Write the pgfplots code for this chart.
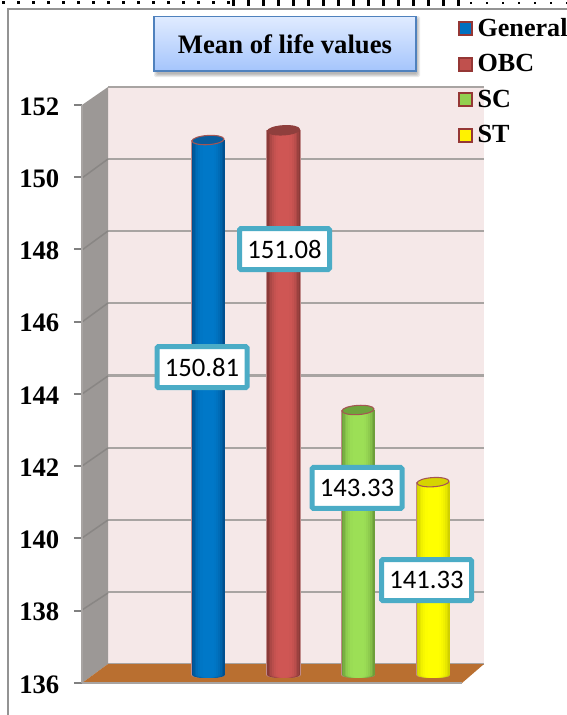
\documentclass[border=0pt]{standalone}
\usepackage{pgfplots}
\usepackage{fontspec}
\pgfplotsset{compat=1.18}
\setmainfont{Liberation Serif}
\newfontfamily\labelfont{Carlito}
\definecolor{wallpink}{HTML}{F5E8E8}
\definecolor{sidegray}{HTML}{9C9896}
\definecolor{gridgray}{HTML}{A8A4A2}
\definecolor{floorbrown}{HTML}{B96F30}
\definecolor{callout}{HTML}{4BACC6}
\definecolor{rimred}{HTML}{953735}
\definecolor{halo}{HTML}{C08A8A}
\definecolor{blueA}{HTML}{00508F}\definecolor{blueB}{HTML}{0078C8}\definecolor{blueT}{HTML}{0A5C9C}
\definecolor{redA}{HTML}{8A3A38}\definecolor{redB}{HTML}{CF5654}\definecolor{redT}{HTML}{8F3F3D}
\definecolor{greenA}{HTML}{6E9F3B}\definecolor{greenB}{HTML}{9CDF56}\definecolor{greenT}{HTML}{6EA33C}
\definecolor{yellowA}{HTML}{D0D000}\definecolor{yellowB}{HTML}{FFFF00}\definecolor{yellowT}{HTML}{D6D400}
\definecolor{keyblue}{HTML}{0070C0}\definecolor{keyred}{HTML}{C0504D}\definecolor{keygreen}{HTML}{92D050}
\definecolor{titleedge}{HTML}{4F81BD}\definecolor{titletop}{HTML}{E0EBFF}\definecolor{titlebot}{HTML}{A5C5FC}
% one drawing unit is one pixel: 0.75pt
\newlength{\pxu}\setlength{\pxu}{0.75pt}
% slightly tilted top of a cylinder, and the lower half of its rounded foot
\pgfdeclareplotmark{barcap}{%
  \pgfpathellipse{\pgfpointorigin}{\pgfqpoint{16\pxu}{1\pxu}}{\pgfqpoint{-0.3\pxu}{4.6\pxu}}%
  \pgfusepathqfillstroke}
\pgfdeclareplotmark{barfoot}{%
  \pgfpathmoveto{\pgfqpoint{-\pgfplotmarksize}{0pt}}%
  \pgfpathcurveto{\pgfqpoint{-\pgfplotmarksize}{-3pt}}{\pgfqpoint{\pgfplotmarksize}{-3pt}}{\pgfqpoint{\pgfplotmarksize}{0pt}}%
  \pgfpathclose\pgfusepathqfill}
\pgfplotsset{
  plane/.style={scale only axis, ymin=136, ymax=152, clip=false,
    height=577.4\pxu, ytick={136,138,...,152}},
  cap/.style={only marks, mark=barcap, line width=0.8pt, forget plot},
  val/.style 2 args={nodes near coords,
    /pgf/number format/fixed, /pgf/number format/fixed zerofill,
    /pgf/number format/precision=2, /pgf/number format/assume math mode=true,
    every node near coord/.append style={anchor=center, xshift=#1\pxu, yshift=#2\pxu,
      fill=white, draw=callout, line width=5\pxu, minimum width=90\pxu, minimum height=41\pxu,
      rounded corners=1pt, inner sep=0pt, text=black, font=\labelfont\fontsize{20pt}{22pt}\selectfont}},
  key/.style={legend image code/.code={%
      \draw[fill=#1, draw=rimred, line width=1.4pt] (0pt,-4.9pt) rectangle (9.8pt,4.9pt);
      \path (13pt,0pt);}},
}
% one vertical strip of a cylinder with its foot
\newcommand{\strip}[5]{%
  \addplot[ybar, bar width=#4\pxu, bar shift=0pt, draw=none, fill=#5, forget plot] coordinates {(#1,#2)};
  \addplot[only marks, mark=barfoot, mark size=#4*0.5*0.75pt, draw=none, fill=#5, forget plot] coordinates {(#1,136)};
}
% a cylinder: strips narrowing towards its bright middle
\newcommand{\cylinder}[4]{%
  \strip{#1}{#2}{}{34.5}{halo}
  \strip{#1}{#2}{}{33}{#3}
  \strip{#1}{#2}{}{30}{#4!25!#3}
  \strip{#1}{#2}{}{27}{#4!50!#3}
  \strip{#1}{#2}{}{24}{#4!70!#3}
  \strip{#1}{#2}{}{20}{#4!85!#3}
  \strip{#1}{#2}{}{16}{#4!95!#3}
  \strip{#1}{#2}{}{11}{#4}
}
\begin{document}
\begin{tikzpicture}[x=\pxu, y=-\pxu]
\clip (0,0) rectangle (567,715);
\fill[white] (0,0) rectangle (567,715);
\coordinate (wallcorner) at (108,664);
\coordinate (frontcorner) at (82,683);
\coordinate (barcorner) at (82,674.5);
% page edge marks and frame
\draw[black, line width=3.5\pxu, dash pattern=on 2.5\pxu off 12.5\pxu] (2,2.5) -- (230,2.5);
\draw[black, line width=7\pxu, dash pattern=on 3\pxu off 12\pxu] (232,2) -- (465,2);
\draw[black, line width=2\pxu, dash pattern=on 2\pxu off 14\pxu] (470,2.5) -- (567,2.5);
\draw[gray!85, line width=2\pxu] (7.5,716) -- (7.5,9) -- (568,9);
% back wall with its gridlines
\begin{axis}[plane, at={(wallcorner)}, anchor=south west, width=376\pxu, height=577\pxu,
  xmin=0, xmax=1, xtick=\empty, yticklabels={}, ymajorgrids, axis line style={draw=none},
  major tick length=0pt, grid style={gridgray, line width=2.2\pxu},
  axis background/.style={fill=wallpink}]
\addplot[draw=none] coordinates {(0,136) (1,152)};
\end{axis}
% side wall and floor
\fill[sidegray] (82,105) -- (108,87) -- (108,664) -- (82,683) -- cycle;
\foreach \a/\b in {178/159,250/231,322/303,394/376,466/448,538/520,610/593}
  \draw[sidegray!88!black, line width=1.5\pxu] (82,\a) -- (108,\b);
\fill[floorbrown] (82,683) -- (108,664) -- (484,664) -- (462,683) -- cycle;
% front edge with the value scale
\begin{axis}[plane, at={(frontcorner)}, anchor=south west, width=380\pxu, height=578.2\pxu,
  xmin=82, xmax=462, xtick=\empty, axis lines*=left,
  axis line style={gridgray, line width=1.5\pxu, -},
  tick style={black!50, line width=2\pxu}, major tick length=8\pxu,
  tick align=outside,
  yticklabel style={/pgf/number format/assume math mode=true, font=\bfseries\fontsize{20pt}{22pt}\selectfont, xshift=-10\pxu, yshift=-1.5\pxu}]
\addplot[draw=none] coordinates {(82,136) (462,152)};
\end{axis}
% cylinders, stood on a plane between the wall and the front edge
\begin{axis}[plane, at={(barcorner)}, anchor=south west, width=380\pxu,
  xmin=82, xmax=462, hide axis,
  legend style={at={(0.9879,1.1396)}, anchor=north west, draw=none, fill=none,
    font=\bfseries\fontsize{19.6pt}{22pt}\selectfont, inner sep=0pt, row sep=10.2pt,
    nodes={inner sep=1pt}},
  legend cell align=left]
\cylinder{208}{150.81}{blueA}{blueB}
\cylinder{283.5}{151.08}{redA}{redB}
\cylinder{358}{143.33}{greenA}{greenB}
\cylinder{433}{141.33}{yellowA}{yellowB}
% tops
\addplot[cap, draw=rimred!85!white, fill=blueT] coordinates {(208,150.81)};
\addplot[cap, draw=redT, fill=redT] coordinates {(283.5,151.08)};
\addplot[cap, draw=rimred!85!white, fill=greenT] coordinates {(358,143.33)};
\addplot[cap, draw=rimred!85!white, fill=yellowT] coordinates {(433,141.33)};
% callouts
\addplot[only marks, mark=none, forget plot, val={-6}{-227}] coordinates {(208,150.81)};
\addplot[only marks, mark=none, forget plot, val={1}{-118.7}] coordinates {(283.5,151.08)};
\addplot[only marks, mark=none, forget plot, val={-1}{-78}] coordinates {(358,143.33)};
\addplot[only marks, mark=none, forget plot, val={-6.5}{-97.9}] coordinates {(433,141.33)};
% legend keys
\addlegendimage{key=keyblue}\addlegendentry{General}
\addlegendimage{key=keyred}\addlegendentry{OBC}
\addlegendimage{key=keygreen}\addlegendentry{SC}
\addlegendimage{key=yellow}\addlegendentry{ST}
\end{axis}
% chart title
\foreach \s in {0,1,2,3}
  \fill[black, opacity=0.08, rounded corners=1pt] (157-\s,19-\s) rectangle (417+\s,74+\s);
\draw[titleedge, line width=1.4pt, top color=titletop, bottom color=titlebot] (154,16.5) rectangle (416,71);
\node[font=\bfseries\fontsize{20pt}{22pt}\selectfont] at (285,44) {Mean of life values};
\end{tikzpicture}
\end{document}
